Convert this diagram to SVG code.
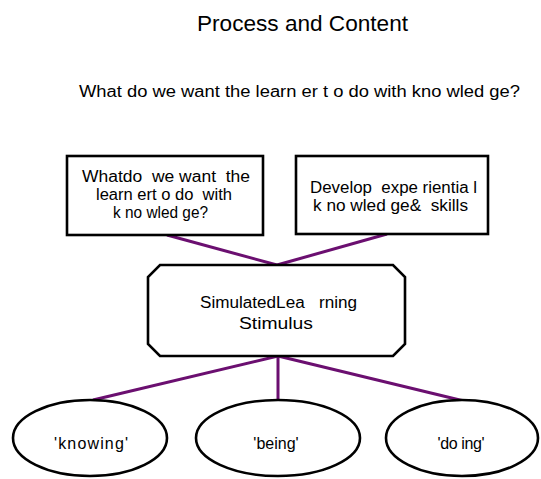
<svg xmlns="http://www.w3.org/2000/svg" width="541" height="479" viewBox="0 0 541 479" xml:space="preserve">
  <style>
    text { font-family: "Liberation Sans", Arial, sans-serif; fill: #000; text-anchor: middle; white-space: pre; }
    .title { font-size: 22px; }
    .sub { font-size: 16px; }
    .lbl { font-size: 16px; }
    .oval { font-size: 16px; }
    .shape { fill: #fff; stroke: #000; stroke-width: 2.6; }
    .link { stroke: #6b0f70; stroke-width: 3; fill: none; }
  </style>
  <rect width="541" height="479" fill="#fff"/>

  <text class="title" x="302.5" y="31" textLength="211" lengthAdjust="spacingAndGlyphs">Process and Content</text>
  <text class="sub" x="299.5" y="97" textLength="441" lengthAdjust="spacingAndGlyphs">What do we want the learn er t o do with kno wled ge?</text>

  <g id="connectors">
    <line class="link" x1="167" y1="235" x2="277" y2="265"/>
    <line class="link" x1="387" y1="234" x2="277" y2="265"/>
    <line class="link" x1="278" y1="356" x2="93" y2="400"/>
    <line class="link" x1="278" y1="356" x2="278" y2="400"/>
    <line class="link" x1="278" y1="356" x2="464" y2="401"/>
  </g>

  <g id="question">
    <rect class="shape" x="67" y="156" width="196" height="79"/>
    <text class="lbl" x="166" y="182" textLength="168" lengthAdjust="spacingAndGlyphs">Whatdo  we want  the</text>
    <text class="lbl" x="164" y="200" textLength="136" lengthAdjust="spacingAndGlyphs">learn ert o do  with</text>
    <text class="lbl" x="160.5" y="218" textLength="95" lengthAdjust="spacingAndGlyphs">k no wled ge?</text>
  </g>

  <g id="develop">
    <rect class="shape" x="296" y="156" width="192" height="78"/>
    <text class="lbl" x="393.5" y="193" textLength="167" lengthAdjust="spacingAndGlyphs">Develop  expe rientia l</text>
    <text class="lbl" x="390.5" y="211" textLength="155" lengthAdjust="spacingAndGlyphs">k no wled ge&amp;  skills</text>
  </g>

  <g id="stimulus">
    <path class="shape" d="M160 265 H393 L405 277 V344 L393 356 H160 L148 344 V277 Z"/>
    <text class="lbl" x="278.5" y="308" textLength="157" lengthAdjust="spacingAndGlyphs">SimulatedLea   rning</text>
    <text class="lbl" x="276" y="329" textLength="74" lengthAdjust="spacingAndGlyphs">Stimulus</text>
  </g>

  <g id="knowing">
    <ellipse class="shape" cx="90" cy="438" rx="77" ry="38"/>
    <text class="oval" x="91" y="449" textLength="74" lengthAdjust="spacing">'knowing'</text>
  </g>

  <g id="being">
    <ellipse class="shape" cx="278" cy="438" rx="82" ry="38"/>
    <text class="oval" x="276" y="449">'being'</text>
  </g>

  <g id="doing">
    <ellipse class="shape" cx="462" cy="438" rx="76" ry="38"/>
    <text class="oval" x="461" y="449" textLength="47" lengthAdjust="spacing">'do ing'</text>
  </g>
</svg>
